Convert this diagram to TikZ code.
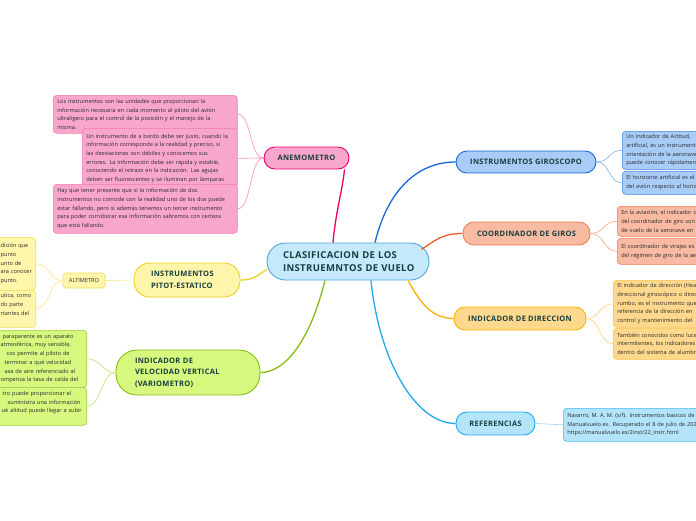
\documentclass[tikz,border=0pt]{standalone}
\usepackage{fontspec}
\setmainfont{Open Sans}
\newfontfamily\hdfont[LetterSpace=4]{Open Sans}
\definecolor{headc}{HTML}{173E3E}
\definecolor{txtc}{HTML}{2A2A2A}
\definecolor{cenF}{HTML}{C5E9FB}\definecolor{cenD}{HTML}{4BA6DC}
\definecolor{pkF}{HTML}{F9A6CD}\definecolor{pkD}{HTML}{E8006A}\definecolor{pkL}{HTML}{F58EBD}\definecolor{pkB}{HTML}{F07AB2}
\definecolor{blF}{HTML}{A8CCF6}\definecolor{blD}{HTML}{1A66D6}\definecolor{blL}{HTML}{80B0EE}\definecolor{blB}{HTML}{3F86E0}
\definecolor{orF}{HTML}{F8BAA3}\definecolor{orD}{HTML}{F45A24}\definecolor{orL}{HTML}{F9A282}\definecolor{orB}{HTML}{F47C52}
\definecolor{ylF}{HTML}{FED98D}\definecolor{ylD}{HTML}{FAB000}\definecolor{ylL}{HTML}{FBCF72}\definecolor{ylB}{HTML}{FAC04A}
\definecolor{rfF}{HTML}{B4E4FA}\definecolor{rfD}{HTML}{20AAEA}\definecolor{rfL}{HTML}{8ED6F5}\definecolor{rfB}{HTML}{45B9EE}
\definecolor{ptF}{HTML}{FFF6AB}\definecolor{ptD}{HTML}{ECD321}\definecolor{ptL}{HTML}{F8E888}\definecolor{ptB}{HTML}{F2DC5A}
\definecolor{gnF}{HTML}{D6F87E}\definecolor{gnD}{HTML}{86BB14}\definecolor{gnL}{HTML}{BFE26A}\definecolor{gnB}{HTML}{9CCB34}
\tikzset{
  pill/.style={rectangle, rounded corners=#1, line width=0.9pt, text=headc,
    font={\hdfont\bfseries\fontsize{7.5}{11.5}\selectfont}, inner sep=0pt, align=left},
  tbox/.style={rectangle, rounded corners=3.5pt, line width=0.6pt, text=txtc,
    font={\fontsize{5.6}{8.7}\selectfont}, align=left, inner xsep=4pt, inner ysep=2pt},
  mainlink/.style={line width=1.3pt},
  sublink/.style={line width=0.6pt}
}
\newcommand\myln[2]{\mbox{\hspace*{#1}#2}}
\newcommand\lnb[1]{\mbox{#1}}
\begin{document}
\begin{tikzpicture}[x=1pt,y=-1pt]
\useasboundingbox (0,0) rectangle (696,520);
% central
\node[pill=18.5pt, fill=cenF, draw=cenD, minimum width=162pt, minimum height=37pt, text width=130pt,
  font={\hdfont\bfseries\fontsize{9.5}{13}\selectfont}] (cen) at (348,261.5)
  {\lnb{CLASIFICACION DE LOS}\\\lnb{INSTRUEMNTOS DE VUELO}};
% main topics
\node[pill=11pt, fill=pkF, draw=pkD, minimum width=85pt, minimum height=22pt, align=center] (ane) at (306.5,158) {ANEMOMETRO};
\node[pill=11pt, fill=blF, draw=blD, minimum width=140pt, minimum height=22pt, align=center] (gir) at (526,162) {INSTRUMENTOS GIROSCOPO};
\node[pill=11pt, fill=orF, draw=orD!80, minimum width=127pt, minimum height=23pt, align=center] (coo) at (526.5,233.5) {COORDINADOR DE GIROS};
\node[pill=11pt, fill=ylF, draw=ylD, minimum width=132pt, minimum height=23pt, align=center] (dir) at (520,318.5) {INDICADOR DE DIRECCION};
\node[pill=11pt, fill=rfF, draw=rfD, minimum width=79pt, minimum height=23pt, align=center] (ref) at (495.5,423.5) {REFERENCIAS};
\node[pill=16pt, fill=ptF, draw=ptD, minimum width=106pt, minimum height=34pt, text width=72pt] (pit) at (187,280) {INSTRUMENTOS\\PITOT-ESTATICO};
\node[pill=21pt, fill=gnF, draw=gnD, minimum width=144pt, minimum height=45pt, text width=106pt] (var) at (188,372.5) {INDICADOR DE\\VELOCIDAD VERTICAL\\(VARIOMETRO)};
\node[rectangle, rounded corners=3pt, fill=ptF, draw=ptB, line width=0.6pt, minimum width=42pt, minimum height=15pt,
  inner sep=0pt, text=txtc, font={\fontsize{5.6}{7}\selectfont}] (alt) at (84,280.5) {ALTIMETRO};
% main connectors
\draw[mainlink, pkD] ([xshift=-15pt]cen.north) .. controls +(3,-33) and +(-2,21) .. ([xshift=38pt]ane.south);
\draw[mainlink, blD] ([xshift=27pt]cen.north) .. controls +(12,-50) and +(-40,0) .. (gir.west);
\draw[mainlink, orD] ([xshift=-8pt,yshift=12pt]cen.east) .. controls +(15,-10) and +(-20,0) .. (coo.west);
\draw[mainlink, ylD] ([xshift=60pt]cen.south) .. controls +(12,22) and +(-22,0) .. (dir.west);
\draw[mainlink, rfD] ([xshift=23pt]cen.south) .. controls +(8,80) and +(-40,0) .. (ref.west);
\draw[mainlink, ptD] ([yshift=-8pt]cen.west) .. controls +(-10,7) and +(12,0) .. (pit.east);
\draw[mainlink, gnD] ([xshift=-23pt]cen.south) .. controls +(-15,60) and +(25,0) .. (var.east);
% pink boxes
\node[tbox, fill=pkF, draw=pkB, anchor=north west, text width=176pt, minimum height=38pt] (p1) at (53,95)
 {\lnb{Los instrumentos son las unidades que proporcionan la}\\\lnb{información necesaria en cada momento al piloto del avión}\\\lnb{ultraligero para el control de la posición y el manejo de la}\\\lnb{misma.}};
\node[tbox, fill=pkF, draw=pkB, anchor=north west, text width=147pt, minimum height=60pt] (p2) at (82,128)
 {\lnb{Un instrumento de a bordo debe ser justo, cuando la}\\\lnb{información corresponde a la realidad y preciso, si}\\\lnb{las desviaciones son débiles y conocemos sus}\\\lnb{errores. La información debe ser rápida y estable,}\\\lnb{conociendo el retraso en la indicación. Las agujas}\\\lnb{deben ser fluorescentes y se iluminan por lámparas}};
\node[tbox, fill=pkF, draw=pkB, anchor=north west, text width=176pt, minimum height=49pt] (p3) at (53,184)
 {\lnb{Hay que tener presente que si la información de dos}\\\lnb{instrumentos no coincide con la realidad uno de los dos puede}\\\lnb{estar fallando, pero si además tenemos un tercer instrumento}\\\lnb{para poder corroborar esa información sabremos con certeza}\\\lnb{que está fallando.}};
% blue boxes
\node[tbox, fill=blF, draw=blB, anchor=north west, text width=110pt, minimum height=38pt] (b1) at (622,131)
 {\lnb{Un Indicador de Actitud,}\\\lnb{artificial, es un instrumento}\\\lnb{orientación de la aeronave}\\\lnb{puede conocer rápidamente}};
\node[tbox, fill=blF, draw=blB, anchor=north west, text width=110pt, minimum height=23pt] (b2) at (622,171)
 {\lnb{El horizonte artificial es el}\\\lnb{del avión respecto al horizonte}};
% orange boxes
\node[tbox, fill=orF, draw=orB, anchor=north west, text width=110pt, minimum height=30pt] (o1) at (617,206)
 {\lnb{En la aviación, el indicador de}\\\lnb{del coordinador de giro son}\\\lnb{de vuelo de la aeronave en}};
\node[tbox, fill=orF, draw=orB, anchor=north west, text width=110pt, minimum height=26pt] (o2) at (617,238)
 {\lnb{El coordinador de virajes es}\\\lnb{del régimen de giro de la aeronave}};
% yellow boxes
\node[tbox, fill=ylF, draw=ylB, anchor=north west, text width=110pt, minimum height=47pt] (y1) at (613,280)
 {\lnb{El indicador de dirección (Heading}\\\lnb{direccional giroscópico o direction}\\\lnb{rumbo, es el instrumento que}\\\lnb{referencia de la dirección en}\\\lnb{control y mantenimiento del}};
\node[tbox, fill=ylF, draw=ylB, anchor=north west, text width=110pt, minimum height=31pt] (y2) at (613,328)
 {\lnb{También conocidos como luces}\\\lnb{intermitentes, los indicadores}\\\lnb{dentro del sistema de alumbrado}};
% reference box
\node[tbox, fill=rfF, draw=rfB, anchor=north west, text width=160pt, minimum height=33pt] (r1) at (563,408)
 {\lnb{Navarro, M. A. M. (s/f). Instrumentos basicos de vuelo.}\\\lnb{Manualvuelo.es. Recuperado el 8 de julio de 2022}\\\lnb{https://manualvuelo.es/2inst/22\_instr.html}};
% left yellow boxes
\node[tbox, fill=ptF, draw=ptB, anchor=north east, text width=45pt, minimum height=53pt] (ly1) at (36,237)
 {\myln{14pt}{dición que}\\\myln{14pt}{punto}\\\myln{14pt}{unto de}\\\myln{14pt}{ara conocer}\\\myln{14pt}{punto.}};
\node[tbox, fill=ptF, draw=ptB, anchor=north east, text width=45pt, minimum height=37pt] (ly2) at (36,290)
 {\myln{14pt}{utica, como}\\\myln{14pt}{do parte}\\\myln{14pt}{rtantes del}\\~};
% left green boxes
\node[tbox, fill=gnF, draw=gnB, anchor=north east, text width=100pt, minimum height=57pt] (g1) at (87,330)
 {\myln{20pt}{paraparente es un aparato}\\\myln{18pt}{atmosférica, muy sensible,}\\\myln{24pt}{cos permite al piloto de}\\\myln{22pt}{terminar a qué velocidad}\\\myln{22pt}{asa de aire referenciado al}\\\myln{18pt}{ompensa la tasa de caída del}};
\node[tbox, fill=gnF, draw=gnB, anchor=north east, text width=100pt, minimum height=38pt] (g2) at (87,387)
 {\myln{20pt}{tro puede proporcionar el}\\\myln{25pt}{suministra una información}\\\myln{19pt}{ué altitud puede llegar a subir}\\~};
% sub connectors
\draw[sublink, pkL] (ane.west) .. controls +(-14,0) and +(14,0) .. (p1.east);
\draw[sublink, pkL] (ane.west) .. controls +(-14,0) and +(14,0) .. (p2.east);
\draw[sublink, pkL] (ane.west) .. controls +(-14,0) and +(14,0) .. (p3.east);
\draw[sublink, blL] (gir.east) .. controls +(14,0) and +(-14,0) .. (b1.west);
\draw[sublink, blL] (gir.east) .. controls +(14,0) and +(-14,0) .. (b2.west);
\draw[sublink, orL] (coo.east) .. controls +(14,0) and +(-14,0) .. (o1.west);
\draw[sublink, orL] (coo.east) .. controls +(14,0) and +(-14,0) .. (o2.west);
\draw[sublink, ylL] (dir.east) .. controls +(14,0) and +(-14,0) .. (y1.west);
\draw[sublink, ylL] (dir.east) .. controls +(14,0) and +(-14,0) .. (y2.west);
\draw[sublink, rfL] (ref.east) -- (r1.west);
\draw[sublink, ptL] (pit.west) -- (alt.east);
\draw[sublink, ptL] (alt.west) .. controls +(-14,0) and +(14,0) .. (ly1.east);
\draw[sublink, ptL] (alt.west) .. controls +(-14,0) and +(14,0) .. (ly2.east);
\draw[sublink, gnL] (var.west) .. controls +(-14,0) and +(14,0) .. (g1.east);
\draw[sublink, gnL] (var.west) .. controls +(-14,0) and +(14,0) .. (g2.east);
\end{tikzpicture}
\end{document}
